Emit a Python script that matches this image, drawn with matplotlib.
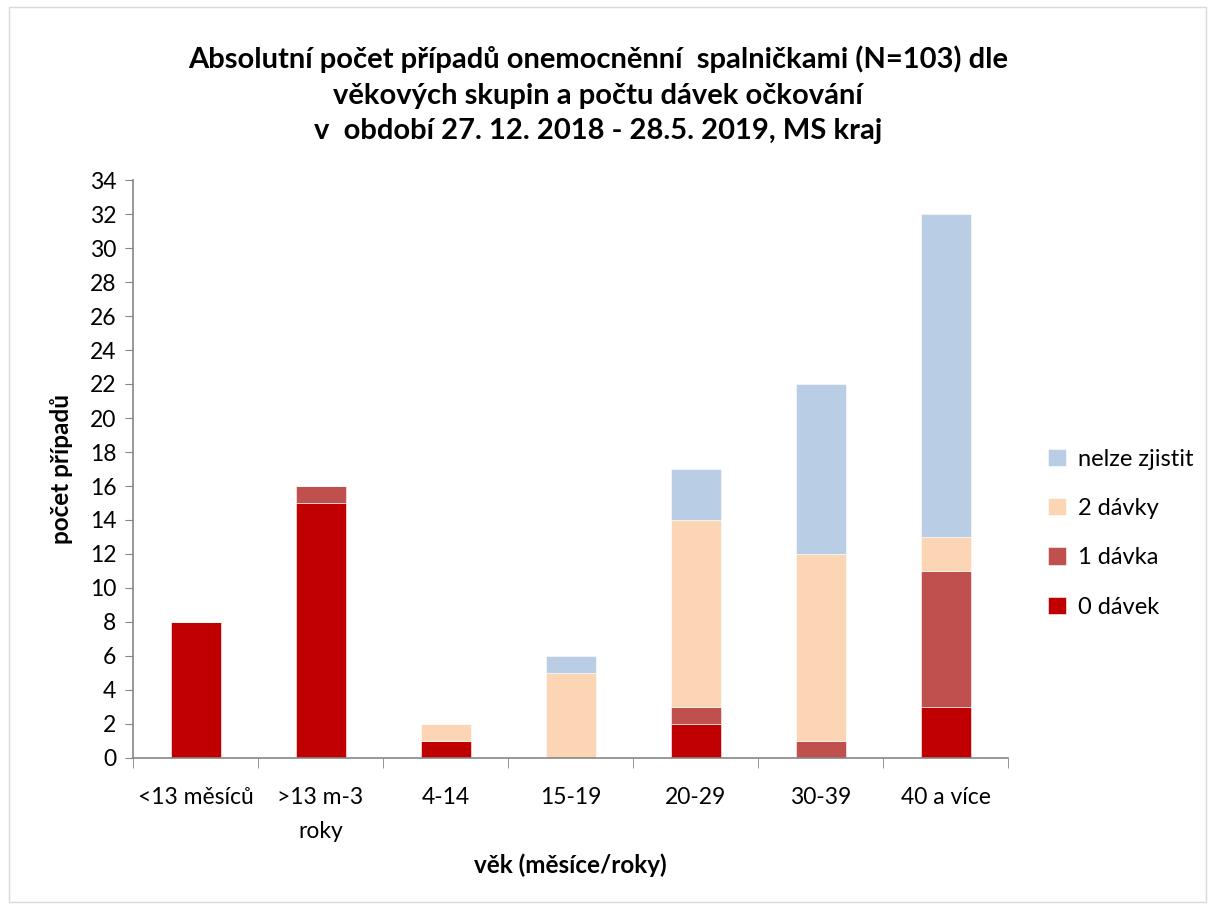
import matplotlib
matplotlib.use("Agg")
import matplotlib.pyplot as plt
import numpy as np
from matplotlib.patches import Rectangle

categories = ["<13 měsíců", ">13 m-3\nroky", "4-14", "15-19", "20-29", "30-39", "40 a více"]
dose0 = [8, 15, 1, 0, 2, 0, 3]
dose1 = [0, 1, 0, 0, 1, 1, 8]
dose2 = [0, 0, 1, 5, 11, 11, 2]
unknown = [0, 0, 0, 1, 3, 10, 19]
series_names = ["0 dávek", "1 dávka", "2 dávky", "nelze zjistit"]
colors = ["#C00000", "#C0504D", "#FCD5B5", "#B9CDE5"]

plt.rcParams['font.family'] = ['Lato', 'DejaVu Sans']

fig = plt.figure(figsize=(12.15, 9.09), dpi=100)
fig.patches.append(Rectangle((0.007, 0.008), 0.986, 0.984, transform=fig.transFigure,
                             fill=False, edgecolor="#D9D9D9", linewidth=1))
ax = fig.add_axes([133/1215, 151/909, 875/1215, 578/909])

x = np.arange(len(categories))
bottom = np.zeros(len(categories))
handles = []
for vals, name, c in zip([dose0, dose1, dose2, unknown], series_names, colors):
    vals = np.array(vals, dtype=float)
    h = ax.bar(x, vals, width=0.4, bottom=bottom, color=c, label=name,
               edgecolor="white", linewidth=0.4)
    handles.append(h)
    bottom += vals

ax.set_xlim(-0.5, len(categories) - 0.5)
ax.set_ylim(0, 34)
ax.set_yticks(np.arange(0, 35, 2))
ax.tick_params(axis='y', labelsize=16.5, length=6, color="#868686", pad=6)
ax.set_xticks(x)
ax.set_xticklabels(categories, fontsize=16.5, linespacing=1.75)
ax.tick_params(axis='x', length=0, pad=21)
ax.set_xticks(np.arange(-0.5, len(categories)), minor=True)
ax.tick_params(axis='x', which='minor', length=7, color="#868686")
for s in ["top", "right"]:
    ax.spines[s].set_visible(False)
for s in ["left", "bottom"]:
    ax.spines[s].set_color("#868686")
    ax.spines[s].set_linewidth(1.2)

ax.set_ylabel("počet případů", fontsize=17.5, fontweight="bold", labelpad=12)
ax.set_xlabel("věk (měsíce/roky)", fontsize=17.5, fontweight="bold", labelpad=8)

fig.text(598/1215, 1 - 95/909,
         "Absolutní počet případů onemocněnní  spalničkami (N=103) dle\nvěkových skupin a počtu dávek očkování\nv  období 27. 12. 2018 - 28.5. 2019, MS kraj",
         ha="center", va="center", fontsize=21, fontweight="bold", linespacing=1.45)

leg = fig.legend(handles[::-1], series_names[::-1], loc="center left",
                 bbox_to_anchor=(1027/1215, 1 - 533/909), frameon=False, fontsize=17,
                 handlelength=0.75, handleheight=0.75, labelspacing=1.2, handletextpad=0.5)

fig.savefig("out.png", dpi=100)
